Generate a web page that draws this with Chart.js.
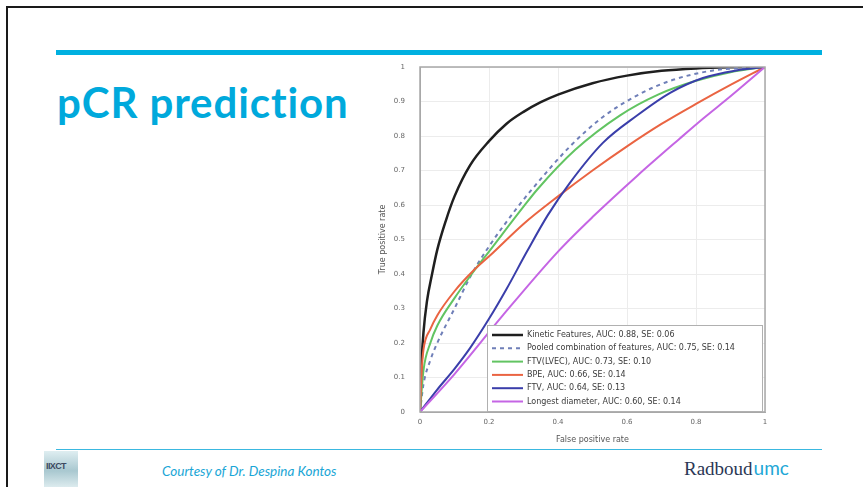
<!DOCTYPE html>
<html>
<head>
<meta charset="utf-8">
<script src="https://cdn.jsdelivr.net/npm/chart.js@4.4.1/dist/chart.umd.min.js"></script>
<style>
  html, body { margin:0; padding:0; background:#fff; }
  body { width:863px; height:487px; position:relative; overflow:hidden; }
  .frame { position:absolute; left:6px; top:6px; width:870px; height:500px; border-left:2px solid #1a1a1a; border-top:2px solid #1a1a1a; }
  .topline { position:absolute; left:56px; top:50px; width:766px; height:5px; background:#00b0e0; }
  .title { position:absolute; left:57px; top:77px; font-family:Lato, "Open Sans", sans-serif; font-weight:700; font-size:42px; color:#00a9dc; white-space:nowrap; letter-spacing:0.9px; }
  .bottomline { position:absolute; left:56px; top:449px; width:766px; height:1px; background:#3ab8e0; }
  .logo { position:absolute; left:44px; top:451px; width:34px; height:36px; background:linear-gradient(180deg,#dfeef1 0%,#a9c8d0 55%,#dcebee 100%); }
  .logo span { position:absolute; left:2px; top:10px; font-family:"Liberation Sans", sans-serif; font-weight:700; font-size:9px; color:#3d4a60; letter-spacing:-0.6px; }
  .courtesy { position:absolute; left:162px; top:463px; font-family:Lato, "Open Sans", sans-serif; font-style:italic; font-size:13.5px; color:#1aa6d6; white-space:nowrap; }
  .radboud { position:absolute; left:684px; top:456px; font-family:"Liberation Serif", serif; font-size:19px; color:#2b3755; white-space:nowrap; }
  .radboud .umc { color:#22a7d6; font-family:Lato, sans-serif; font-size:19px; margin-left:1px; }
  canvas { position:absolute; left:0; top:0; }
</style>
</head>
<body>
<div class="frame"></div>
<div class="topline"></div>
<div class="title">pCR prediction</div>
<div class="bottomline"></div>
<div class="logo"><span>IIXCT</span></div>
<div class="courtesy">Courtesy of Dr. Despina Kontos</div>
<div class="radboud">Radboud<span class="umc">umc</span></div>
<canvas id="c" width="863" height="487"></canvas>
<script>
// ---- data ----
const seriesLabels = [
  "Kinetic Features, AUC: 0.88, SE: 0.06",
  "Pooled combination of features, AUC: 0.75, SE: 0.14",
  "FTV(LVEC), AUC: 0.73, SE: 0.10",
  "BPE, AUC: 0.66, SE: 0.14",
  "FTV, AUC: 0.64, SE: 0.13",
  "Longest diameter, AUC: 0.60, SE: 0.14"
];
const xTickLabels = ["0", "0.2", "0.4", "0.6", "0.8", "1"];
const yTickLabels = ["0", "0.1", "0.2", "0.3", "0.4", "0.5", "0.6", "0.7", "0.8", "0.9", "1"];

const kineticFpr = [0, 0.005, 0.01, 0.02, 0.035, 0.05, 0.075, 0.1, 0.145, 0.2, 0.25, 0.3, 0.35, 0.4, 0.5, 0.6, 0.7, 0.8, 0.9, 1];
const kineticTpr = [0, 0.15, 0.23, 0.32, 0.40, 0.47, 0.555, 0.625, 0.715, 0.785, 0.835, 0.87, 0.898, 0.92, 0.953, 0.975, 0.989, 0.996, 0.999, 1];

const pooledFpr = [0, 0.01, 0.03, 0.05, 0.1, 0.15, 0.2, 0.28, 0.32, 0.435, 0.53, 0.63, 0.725, 0.85, 1];
const pooledTpr = [0, 0.08, 0.15, 0.20, 0.30, 0.40, 0.48, 0.59, 0.64, 0.77, 0.855, 0.918, 0.96, 0.99, 1];

const ftvLvecFpr = [0, 0.01, 0.03, 0.05, 0.1, 0.15, 0.2, 0.3, 0.34, 0.45, 0.58, 0.69, 0.8, 0.9, 1];
const ftvLvecTpr = [0, 0.12, 0.20, 0.25, 0.33, 0.40, 0.465, 0.595, 0.645, 0.76, 0.86, 0.92, 0.96, 0.985, 1];

const bpeFpr = [0, 0.005, 0.01, 0.03, 0.05, 0.1, 0.15, 0.21, 0.3, 0.4, 0.5, 0.6, 0.7, 0.8, 0.9, 1];
const bpeTpr = [0, 0.12, 0.18, 0.24, 0.28, 0.35, 0.405, 0.46, 0.545, 0.625, 0.70, 0.77, 0.835, 0.893, 0.948, 1];

const ftvFpr = [0, 0.05, 0.1, 0.145, 0.2, 0.25, 0.31, 0.37, 0.435, 0.53, 0.63, 0.725, 0.82, 0.917, 1];
const ftvTpr = [0, 0.065, 0.125, 0.185, 0.27, 0.355, 0.465, 0.57, 0.665, 0.78, 0.86, 0.925, 0.968, 0.99, 1];

const diameterFpr = [0, 0.1, 0.24, 0.4, 0.5, 0.63, 0.75, 0.82, 0.9, 1];
const diameterTpr = [0, 0.11, 0.28, 0.465, 0.565, 0.685, 0.79, 0.85, 0.915, 1];

const seriesColors = ["#1f1f1f", "#6f7fb8", "#62c462", "#ea6442", "#3a3eaa", "#c565e4"];

// ---- build datasets ----
function pts(xs, ys) { return xs.map((x, i) => ({ x: x, y: ys[i] })); }
const pairs = [
  [kineticFpr, kineticTpr], [pooledFpr, pooledTpr], [ftvLvecFpr, ftvLvecTpr],
  [bpeFpr, bpeTpr], [ftvFpr, ftvTpr], [diameterFpr, diameterTpr]
];
const datasets = pairs.map((p, i) => ({
  label: seriesLabels[i],
  data: pts(p[0], p[1]),
  borderColor: seriesColors[i],
  backgroundColor: seriesColors[i],
  borderWidth: i === 0 ? 2.5 : 2,
  borderDash: i === 1 ? [4, 4] : [],
  pointRadius: 0,
  fill: false,
  cubicInterpolationMode: 'monotone'
})).reverse();

const boxAndLegend = {
  id: 'boxAndLegend',
  afterDatasetsDraw(chart) {
    const ctx = chart.ctx;
    const a = chart.chartArea;
    ctx.save();
    // plot box
    ctx.strokeStyle = '#a8a8a8';
    ctx.lineWidth = 1.5;
    ctx.strokeRect(a.left, a.top, a.right - a.left, a.bottom - a.top);
    // legend
    const lx = 487, ly = 325, lw = a.right - 3 - 487, lh = a.bottom - 1 - 325;
    ctx.fillStyle = '#ffffff';
    ctx.fillRect(lx, ly, lw, lh);
    ctx.strokeStyle = '#b0b0b0';
    ctx.lineWidth = 1;
    ctx.strokeRect(lx + 0.5, ly + 0.5, lw, lh);
    ctx.font = '8px "DejaVu Sans", sans-serif';
    ctx.textBaseline = 'middle';
    const ordered = chart.data.datasets.slice().reverse();
    ordered.forEach((ds, i) => {
      const y = ly + 10 + i * 13.3;
      ctx.strokeStyle = ds.borderColor;
      ctx.lineWidth = ds.borderWidth;
      ctx.setLineDash(ds.borderDash || []);
      ctx.beginPath();
      ctx.moveTo(lx + 5, y);
      ctx.lineTo(lx + 36, y);
      ctx.stroke();
      ctx.setLineDash([]);
      ctx.fillStyle = '#3a3a3a';
      ctx.fillText(ds.label, lx + 40, y);
    });
    ctx.restore();
  }
};

new Chart(document.getElementById('c'), {
  type: 'line',
  data: { datasets: datasets },
  options: {
    responsive: false,
    animation: false,
    devicePixelRatio: 1,
    layout: { padding: { left: 378, right: 98, top: 67, bottom: 42 } },
    plugins: { legend: { display: false }, tooltip: { enabled: false } },
    scales: {
      x: {
        type: 'linear', min: 0, max: 1,
        afterFit(s) { s.height = 33; },
        ticks: { stepSize: 0.2, padding: 6, color: '#666', font: { size: 7, family: '"DejaVu Sans", sans-serif' },
          callback: (v) => xTickLabels[Math.round(v / 0.2)] },
        grid: { color: '#ececec', drawTicks: false },
        border: { color: '#a8a8a8' },
        title: { display: true, text: 'False positive rate', color: '#555', padding: 0, font: { size: 8, family: '"DejaVu Sans", sans-serif' } }
      },
      y: {
        type: 'linear', min: 0, max: 1,
        afterFit(s) { s.width = 42; },
        ticks: { stepSize: 0.1, padding: 15, color: '#666', font: { size: 7, family: '"DejaVu Sans", sans-serif' },
          callback: (v) => yTickLabels[Math.round(v / 0.1)] },
        grid: { color: '#ececec', drawTicks: false },
        border: { color: '#a8a8a8' },
        title: { display: true, text: 'True positive rate', color: '#555', padding: 0, font: { size: 8, family: '"DejaVu Sans", sans-serif' } }
      }
    }
  },
  plugins: [boxAndLegend]
});
</script>
</body>
</html>
